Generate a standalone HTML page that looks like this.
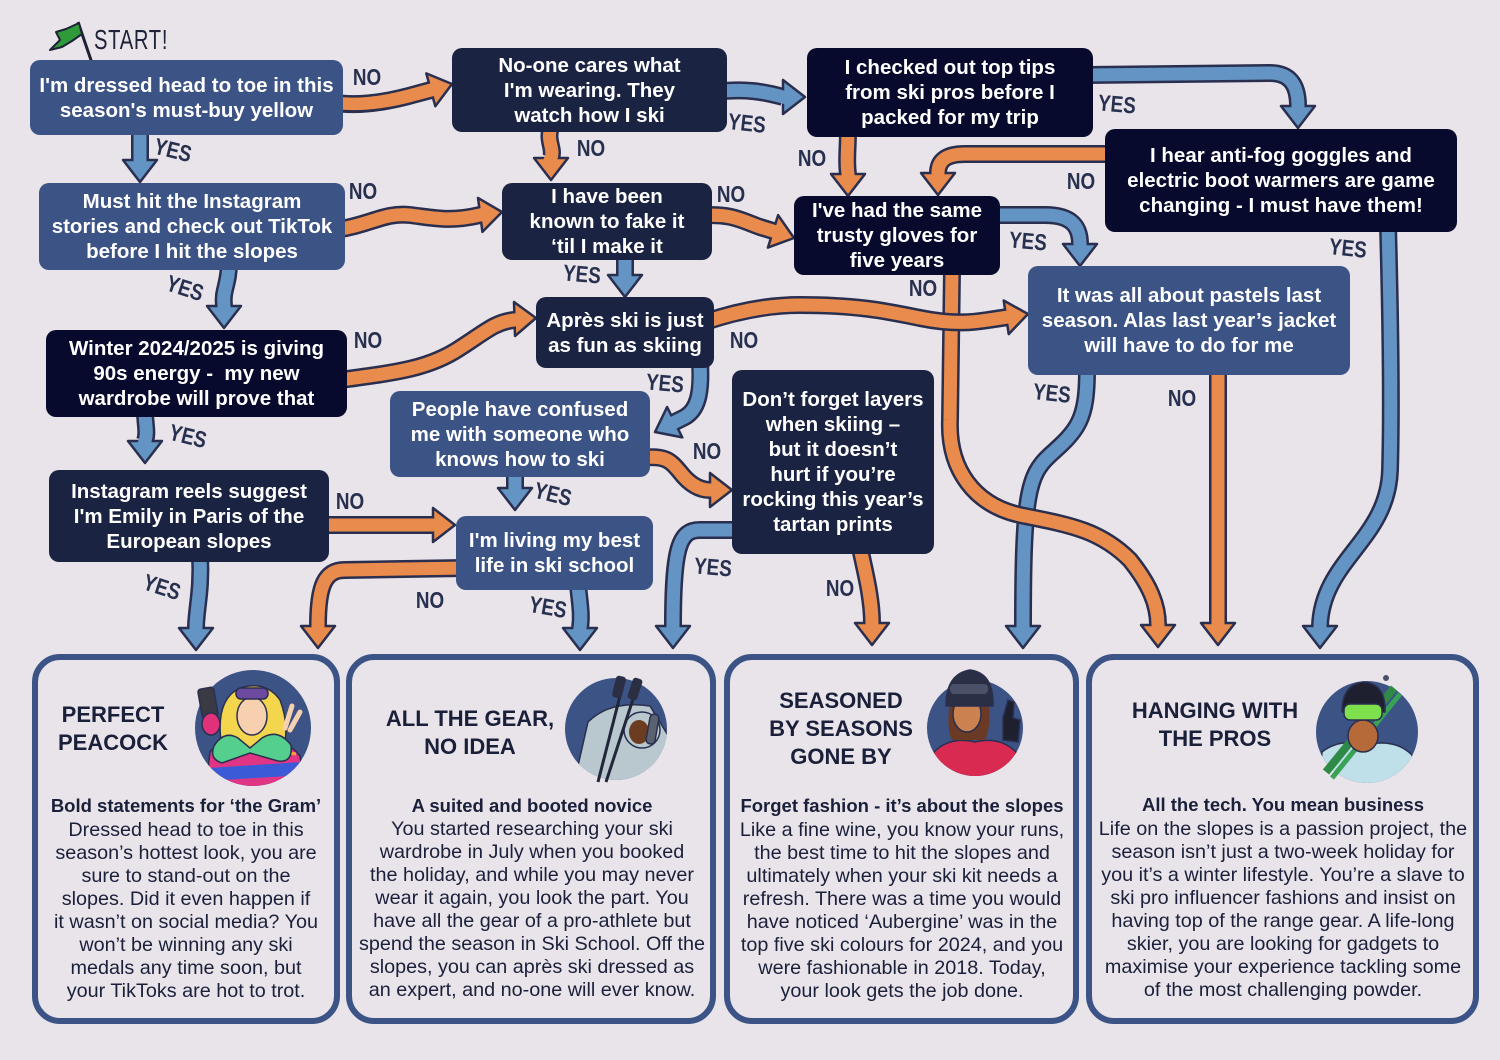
<!DOCTYPE html>
<html><head><meta charset="utf-8">
<style>
*{margin:0;padding:0;box-sizing:border-box}
html,body{width:1500px;height:1060px;overflow:hidden;background:#e9e4e9}
body{position:relative;font-family:"Liberation Sans",sans-serif}
.b{position:absolute;border-radius:10px;color:#fff;font-weight:bold;font-size:20.5px;line-height:25px;text-align:center;display:flex;align-items:center;justify-content:center;z-index:3;white-space:nowrap}
.bl{background:#3c5386}
.nv{background:#1b2342}
.dk{background:#070a2c}
.lab{position:absolute;z-index:4;color:#283050;font-size:23px;line-height:24px;font-weight:bold;white-space:nowrap;transform:translate(-50%,-50%) scaleX(.82)}
.card{position:absolute;top:654px;height:370px;border:6px solid #3c5386;border-radius:28px;z-index:1}
.t{position:absolute;z-index:3;color:#1a1f3a;font-weight:bold;font-size:22px;line-height:27.5px;text-align:center;white-space:nowrap;transform:translateX(-50%)}
.st{position:absolute;z-index:3;color:#1a1f3a;font-weight:bold;font-size:18.5px;line-height:23px;text-align:center;white-space:nowrap;transform:translateX(-50%)}
.bd{position:absolute;z-index:3;color:#1a1f3a;font-size:19.8px;line-height:23px;text-align:center;white-space:nowrap;transform:translateX(-50%)}
svg{position:absolute;left:0;top:0}
.so{fill:none;stroke:#2a2f4f;stroke-width:18}
.io{fill:none;stroke:#e98b4c;stroke-width:13;stroke-linecap:square}
.ib{fill:none;stroke:#6394c4;stroke-width:13;stroke-linecap:square}
.ho{fill:#e98b4c;stroke:#2a2f4f;stroke-width:2.5;stroke-linejoin:round}
.hb{fill:#6394c4;stroke:#2a2f4f;stroke-width:2.5;stroke-linejoin:round}
.ol{stroke:#2a2f4f;stroke-width:1.5}
</style></head><body>

<!-- cards -->
<div class="card" style="left:32px;width:308px"></div>
<div class="card" style="left:346px;width:370px"></div>
<div class="card" style="left:724px;width:355px"></div>
<div class="card" style="left:1086px;width:393px"></div>

<!-- arrows -->
<svg width="1500" height="1060" style="z-index:2">
<!-- A1 -->
<path class="so" d="M330,102 C360,108 395,100 416,94 L431,90"/><polygon class="ho" points="435.3,106.2 452,84 426.3,73.4"/><path class="io" d="M330,102 C360,108 395,100 416,94 L431,90"/>
<!-- A2 -->
<path class="so" d="M140,125 L140,160"/><polygon class="hb" points="123,160 157,160 140,182"/><path class="ib" d="M140,125 L140,160"/>
<!-- A3 -->
<path class="so" d="M552,125 C545,140 555,148 551,158"/><polygon class="ho" points="534,158 568,158 551,180"/><path class="io" d="M552,125 C545,140 555,148 551,158"/>
<!-- A4 -->
<path class="so" d="M715,92 C745,88 765,92 783,97"/><polygon class="hb" points="783,80 783,114 805,97"/><path class="ib" d="M715,92 C745,88 765,92 783,97"/>
<!-- A5 -->
<path class="so" d="M335,230 C370,225 385,212 410,215 C435,218 450,222 480,215"/><polygon class="ho" points="482.4,231.9 502,212 478,197.9"/><path class="io" d="M335,230 C370,225 385,212 410,215 C435,218 450,222 480,215"/>
<!-- A6 -->
<path class="so" d="M229,262 C229,285 222,290 224,306"/><polygon class="hb" points="207,306 241,306 224,328"/><path class="ib" d="M229,262 C229,285 222,290 224,306"/>
<!-- A7 -->
<path class="so" d="M700,216 C730,212 745,222 760,227 L773,231"/><polygon class="ho" points="767.9,247.6 794,238 778.1,215.2"/><path class="io" d="M700,216 C730,212 745,222 760,227 L773,231"/>
<!-- A8 -->
<path class="so" d="M625,255 L625,275"/><polygon class="hb" points="608,275 642,275 625,297"/><path class="ib" d="M625,255 L625,275"/>
<!-- A9 -->
<path class="so" d="M848,130 C848,150 846,160 848,174"/><polygon class="ho" points="831,174 865,174 848,196"/><path class="io" d="M848,130 C848,150 846,160 848,174"/>
<!-- A10 -->
<path class="so" d="M1085,75 L1270,73 C1290,73 1298,85 1298,106"/><polygon class="hb" points="1281,106 1315,106 1298,128"/><path class="ib" d="M1085,75 L1270,73 C1290,73 1298,85 1298,106"/>
<!-- A11 -->
<path class="so" d="M1115,154 L965,154 C947,154 938,160 938,173"/><polygon class="ho" points="921,173 955,173 938,195"/><path class="io" d="M1115,154 L965,154 C947,154 938,160 938,173"/>
<!-- A12 -->
<path class="so" d="M990,215 L1045,215 C1070,215 1080,225 1080,244"/><polygon class="hb" points="1063,244 1097,244 1080,266"/><path class="ib" d="M990,215 L1045,215 C1070,215 1080,225 1080,244"/>
<!-- A26 -->
<path class="so" d="M1087,370 C1087,420 1078,430 1050,455 C1028,475 1023,495 1023,626"/><polygon class="hb" points="1006,626 1040,626 1023,648"/><path class="ib" d="M1087,370 C1087,420 1078,430 1050,455 C1028,475 1023,495 1023,626"/>
<!-- A13 -->
<path class="so" d="M952,270 L950,420 C948,470 975,505 1020,515 C1070,525 1100,530 1130,560 C1150,585 1158,605 1158,625"/><polygon class="ho" points="1141,625 1175,625 1158,647"/><path class="io" d="M952,270 L950,420 C948,470 975,505 1020,515 C1070,525 1100,530 1130,560 C1150,585 1158,605 1158,625"/>
<!-- A14 -->
<path class="so" d="M705,322 C740,310 770,305 800,305 C860,305 890,312 920,318 C960,326 980,321 992,319.4 L1006,317.3"/><polygon class="ho" points="1008.7,334.1 1028,314 1003.7,300.5"/><path class="io" d="M705,322 C740,310 770,305 800,305 C860,305 890,312 920,318 C960,326 980,321 992,319.4 L1006,317.3"/>
<!-- A15 -->
<path class="so" d="M700,362 C702,395 697,410 685,417 L675,422"/><polygon class="hb" points="682.3,437.4 655,432 667.1,407"/><path class="ib" d="M700,362 C702,395 697,410 685,417 L675,422"/>
<!-- A16 -->
<path class="so" d="M640,458 C665,455 670,460 680,472 C690,485 700,490 710,490"/><polygon class="ho" points="710,473 710,507 732,490"/><path class="io" d="M640,458 C665,455 670,460 680,472 C690,485 700,490 710,490"/>
<!-- A17 -->
<path class="so" d="M515,470 L515,488"/><polygon class="hb" points="498,488 532,488 515,510"/><path class="ib" d="M515,470 L515,488"/>
<!-- A18 -->
<path class="so" d="M340,380 C400,372 430,368 460,348 C485,332 495,322 514,320"/><polygon class="ho" points="514,302 515,336 536,318"/><path class="io" d="M340,380 C400,372 430,368 460,348 C485,332 495,322 514,320"/>
<!-- A19 -->
<path class="so" d="M145,410 C145,425 148,432 145,441"/><polygon class="hb" points="128,441 162,441 145,463"/><path class="ib" d="M145,410 C145,425 148,432 145,441"/>
<!-- A20 -->
<path class="so" d="M320,525 L433,525"/><polygon class="ho" points="433,508 433,542 455,525"/><path class="io" d="M320,525 L433,525"/>
<!-- A21 -->
<path class="so" d="M200,555 C202,590 196,610 196,628"/><polygon class="hb" points="179,628 213,628 196,650"/><path class="ib" d="M200,555 C202,590 196,610 196,628"/>
<!-- A22 -->
<path class="so" d="M465,568 L345,570 C325,570 318,585 318,626"/><polygon class="ho" points="301,626 335,626 318,648"/><path class="io" d="M465,568 L345,570 C325,570 318,585 318,626"/>
<!-- A23 -->
<path class="so" d="M578,585 C580,605 582,615 580,628"/><polygon class="hb" points="563,628 597,628 580,650"/><path class="ib" d="M578,585 C580,605 582,615 580,628"/>
<!-- A24 -->
<path class="so" d="M740,530 L700,530 C680,530 673,545 673,626"/><polygon class="hb" points="656,626 690,626 673,648"/><path class="ib" d="M740,530 L700,530 C680,530 673,545 673,626"/>
<!-- A25 -->
<path class="so" d="M860,548 C866,575 872,600 872,623"/><polygon class="ho" points="855,623 889,623 872,645"/><path class="io" d="M860,548 C866,575 872,600 872,623"/>
<!-- A27 -->
<path class="so" d="M1218,370 L1218,623"/><polygon class="ho" points="1201,623 1235,623 1218,645"/><path class="io" d="M1218,370 L1218,623"/>
<!-- A28 -->
<path class="so" d="M1388,225 C1390,300 1392,400 1390,470 C1388,540 1322,560 1320,626"/><polygon class="hb" points="1303,626 1337,626 1320,648"/><path class="ib" d="M1388,225 C1390,300 1392,400 1390,470 C1388,540 1322,560 1320,626"/>

<!-- start flag -->
<line x1="78" y1="22" x2="93" y2="66" stroke="#1e2236" stroke-width="3"/>
<path d="M79,23 L66,29 L56,32 L60,40 L50,50 L62,47 L72,41 L82,34 Z" fill="#2f9a3a" stroke="#1e2236" stroke-width="2" stroke-linejoin="round"/>
</svg>

<div style="position:absolute;left:94px;top:24px;font-size:28px;color:#1e2236;transform:scaleX(.72);transform-origin:left top;z-index:4;letter-spacing:1px">START!</div>

<!-- question boxes -->
<div class="b bl" style="left:30px;top:60px;width:313px;height:75px">I'm dressed head to toe in this<br>season's must-buy yellow</div>
<div class="b nv" style="left:452px;top:48px;width:275px;height:84px">No-one cares what<br>I'm wearing. They<br>watch how I ski</div>
<div class="b dk" style="left:807px;top:48px;width:286px;height:89px">I checked out top tips<br>from ski pros before I<br>packed for my trip</div>
<div class="b bl" style="left:39px;top:183px;width:306px;height:87px">Must hit the Instagram<br>stories and check out TikTok<br>before I hit the slopes</div>
<div class="b nv" style="left:502px;top:183px;width:210px;height:77px">I have been<br>known to fake it<br>‘til I make it</div>
<div class="b dk" style="left:794px;top:196px;width:206px;height:79px">I've had the same<br>trusty gloves for<br>five years</div>
<div class="b dk" style="left:1105px;top:129px;width:352px;height:103px">I hear anti-fog goggles and<br>electric boot warmers are game<br>changing - I must have them!</div>
<div class="b dk" style="left:46px;top:330px;width:301px;height:87px">Winter 2024/2025 is giving<br>90s energy -&nbsp; my new<br>wardrobe will prove that</div>
<div class="b nv" style="left:536px;top:297px;width:178px;height:71px">Après ski is just<br>as fun as skiing</div>
<div class="b bl" style="left:1028px;top:266px;width:322px;height:109px">It was all about pastels last<br>season. Alas last year’s jacket<br>will have to do for me</div>
<div class="b bl" style="left:390px;top:391px;width:260px;height:86px">People have confused<br>me with someone who<br>knows how to ski</div>
<div class="b nv" style="left:732px;top:370px;width:202px;height:184px">Don’t forget layers<br>when skiing –<br>but it doesn’t<br>hurt if you’re<br>rocking this year’s<br>tartan prints</div>
<div class="b nv" style="left:49px;top:470px;width:280px;height:92px">Instagram reels suggest<br>I'm Emily in Paris of the<br>European slopes</div>
<div class="b bl" style="left:456px;top:516px;width:197px;height:74px">I'm living my best<br>life in ski school</div>

<!-- labels -->
<div class="lab" style="left:367px;top:77px">NO</div>
<div class="lab" style="left:173px;top:150px;transform:translate(-50%,-50%) rotate(14deg) scaleX(.82)">YES</div>
<div class="lab" style="left:591px;top:148px">NO</div>
<div class="lab" style="left:747px;top:123px;transform:translate(-50%,-50%) rotate(6deg) scaleX(.82)">YES</div>
<div class="lab" style="left:363px;top:191px">NO</div>
<div class="lab" style="left:185px;top:288px;transform:translate(-50%,-50%) rotate(18deg) scaleX(.82)">YES</div>
<div class="lab" style="left:731px;top:194px">NO</div>
<div class="lab" style="left:582px;top:274px;transform:translate(-50%,-50%) rotate(5deg) scaleX(.82)">YES</div>
<div class="lab" style="left:812px;top:158px">NO</div>
<div class="lab" style="left:1117px;top:104px;transform:translate(-50%,-50%) rotate(5deg) scaleX(.82)">YES</div>
<div class="lab" style="left:1081px;top:181px">NO</div>
<div class="lab" style="left:1028px;top:241px;transform:translate(-50%,-50%) rotate(5deg) scaleX(.82)">YES</div>
<div class="lab" style="left:923px;top:288px">NO</div>
<div class="lab" style="left:744px;top:340px">NO</div>
<div class="lab" style="left:665px;top:383px;transform:translate(-50%,-50%) rotate(5deg) scaleX(.82)">YES</div>
<div class="lab" style="left:707px;top:451px">NO</div>
<div class="lab" style="left:553px;top:494px;transform:translate(-50%,-50%) rotate(14deg) scaleX(.82)">YES</div>
<div class="lab" style="left:368px;top:340px">NO</div>
<div class="lab" style="left:188px;top:436px;transform:translate(-50%,-50%) rotate(14deg) scaleX(.82)">YES</div>
<div class="lab" style="left:350px;top:501px">NO</div>
<div class="lab" style="left:162px;top:587px;transform:translate(-50%,-50%) rotate(18deg) scaleX(.82)">YES</div>
<div class="lab" style="left:430px;top:600px">NO</div>
<div class="lab" style="left:548px;top:607px;transform:translate(-50%,-50%) rotate(10deg) scaleX(.82)">YES</div>
<div class="lab" style="left:713px;top:567px;transform:translate(-50%,-50%) rotate(5deg) scaleX(.82)">YES</div>
<div class="lab" style="left:840px;top:588px">NO</div>
<div class="lab" style="left:1052px;top:393px;transform:translate(-50%,-50%) rotate(6deg) scaleX(.82)">YES</div>
<div class="lab" style="left:1182px;top:398px">NO</div>
<div class="lab" style="left:1348px;top:248px;transform:translate(-50%,-50%) rotate(6deg) scaleX(.82)">YES</div>

<!-- illustrations -->
<svg width="1500" height="1060" style="z-index:3">
<defs>
<clipPath id="c1"><circle cx="253" cy="728" r="58"/></clipPath>
<clipPath id="c2"><circle cx="616" cy="729" r="51"/></clipPath>
<clipPath id="c3"><circle cx="975" cy="728" r="48"/></clipPath>
<clipPath id="c4"><circle cx="1367" cy="732" r="51"/></clipPath>
</defs>
<!-- card 1 -->
<circle cx="253" cy="728" r="58" fill="#3c5386"/>
<g clip-path="url(#c1)">
<path d="M205,792 L210,752 Q222,736 250,740 Q285,736 300,756 L305,792 Z" fill="#e03585" class="ol"/>
<path d="M209,768 L301,762 L303,775 L208,781Z" fill="#3b5bd6"/>
<path d="M215,756 Q255,748 296,754" stroke="#f2a53a" stroke-width="3" fill="none"/>
</g>
<path d="M222,748 Q214,700 240,688 Q266,680 280,700 Q290,726 283,750 Z" fill="#f3d64e" class="ol"/>
<path d="M214,746 Q224,730 238,738 L250,748 L262,738 Q278,728 291,745 Q293,763 278,761 L250,753 L222,763 Q209,759 214,746Z" fill="#55cf8d" class="ol"/>
<ellipse cx="252" cy="716" rx="15" ry="19" fill="#f7d0b0" class="ol"/>
<rect x="236" y="688" width="32" height="11" rx="5" fill="#6b4aa0" class="ol"/>
<rect x="200" y="688" width="16" height="30" rx="3" fill="#3a3a44" class="ol" transform="rotate(-10 208 703)"/>
<ellipse cx="211" cy="724" rx="9" ry="11" fill="#e0317a" class="ol"/>
<path d="M285,728 L292,706 M290,730 L300,712" stroke="#f7d0b0" stroke-width="5" stroke-linecap="round"/>
<!-- card 2 -->
<circle cx="616" cy="729" r="51" fill="#3c5386"/>
<g clip-path="url(#c2)">
<path d="M572,792 L588,722 Q610,700 650,706 L672,742 L670,792Z" fill="#b9c8cf" class="ol"/>
</g>
<circle cx="642" cy="730" r="18" fill="#b9c8cf" class="ol"/>
<ellipse cx="639" cy="732" rx="10" ry="12" fill="#6b3c20"/>
<rect x="648" y="714" width="9" height="30" rx="4" fill="#5a6270" class="ol" transform="rotate(10 652 729)"/>
<line x1="598" y1="782" x2="622" y2="688" stroke="#22263a" stroke-width="3"/>
<line x1="606" y1="782" x2="636" y2="690" stroke="#22263a" stroke-width="3"/>
<rect x="614" y="676" width="10" height="22" rx="3" fill="#2a2f44" transform="rotate(14 619 687)"/>
<rect x="630" y="678" width="10" height="22" rx="3" fill="#2a2f44" transform="rotate(18 635 689)"/>
<!-- card 3 -->
<circle cx="975" cy="728" r="48" fill="#3c5386"/>
<g clip-path="url(#c3)">
<path d="M928,790 L934,752 Q950,736 975,742 Q1000,736 1016,752 L1022,790Z" fill="#d92a52" class="ol"/>
</g>
<path d="M950,700 Q946,730 952,740 L985,740 Q992,725 988,700Z" fill="#6a3a24"/>
<ellipse cx="967" cy="714" rx="14" ry="18" fill="#c98250" class="ol"/>
<path d="M946,706 Q946,674 970,670 Q994,673 993,706 Z" fill="#2b2f45" class="ol"/>
<rect x="950" y="684" width="38" height="10" rx="4" fill="#4a5068"/>
<path d="M1003,740 L1003,718 L1008,700 L1014,702 L1013,718 L1020,720 L1018,742 Z" fill="#1e2030" class="ol"/>
<!-- card 4 -->
<circle cx="1367" cy="732" r="51" fill="#3c5386"/>
<g clip-path="url(#c4)">
<path d="M1318,792 L1322,752 Q1340,738 1365,745 Q1395,738 1412,755 L1418,792Z" fill="#bfdfe9" class="ol"/>
</g>
<line x1="1326" y1="772" x2="1394" y2="688" stroke="#2e8a46" stroke-width="8"/>
<line x1="1332" y1="778" x2="1400" y2="694" stroke="#3aa255" stroke-width="5"/>
<ellipse cx="1363" cy="736" rx="15" ry="16" fill="#b66a3a" class="ol"/>
<path d="M1342,712 Q1342,684 1364,682 Q1386,684 1385,712 Z" fill="#1e2030" class="ol"/>
<rect x="1344" y="704" width="38" height="16" rx="6" fill="#7de04c" class="ol"/>
<circle cx="1386" cy="678" r="3" fill="#4a5068"/>
</svg>

<!-- card texts -->
<div class="t" style="left:113px;top:701px">PERFECT<br>PEACOCK</div>
<div class="st" style="left:186px;top:794px">Bold statements for ‘the Gram’</div>
<div class="bd" style="left:186px;top:819px">Dressed head to toe in this<br>season’s hottest look, you are<br>sure to stand-out on the<br>slopes. Did it even happen if<br>it wasn’t on social media? You<br>won’t be winning any ski<br>medals any time soon, but<br>your TikToks are hot to trot.</div>

<div class="t" style="left:470px;top:705px">ALL THE GEAR,<br>NO IDEA</div>
<div class="st" style="left:532px;top:794px">A suited and booted novice</div>
<div class="bd" style="left:532px;top:818px">You started researching your ski<br>wardrobe in July when you booked<br>the holiday, and while you may never<br>wear it again, you look the part. You<br>have all the gear of a pro-athlete but<br>spend the season in Ski School. Off the<br>slopes, you can après ski dressed as<br>an expert, and no-one will ever know.</div>

<div class="t" style="left:841px;top:687px;line-height:28px">SEASONED<br>BY SEASONS<br>GONE BY</div>
<div class="st" style="left:902px;top:794px">Forget fashion - it’s about the slopes</div>
<div class="bd" style="left:902px;top:819px">Like a fine wine, you know your runs,<br>the best time to hit the slopes and<br>ultimately when your ski kit needs a<br>refresh. There was a time you would<br>have noticed ‘Aubergine’ was in the<br>top five ski colours for 2024, and you<br>were fashionable in 2018. Today,<br>your look gets the job done.</div>

<div class="t" style="left:1215px;top:697px;line-height:28px">HANGING WITH<br>THE PROS</div>
<div class="st" style="left:1283px;top:793px">All the tech. You mean business</div>
<div class="bd" style="left:1283px;top:818px">Life on the slopes is a passion project, the<br>season isn’t just a two-week holiday for<br>you it’s a winter lifestyle. You’re a slave to<br>ski pro influencer fashions and insist on<br>having top of the range gear. A life-long<br>skier, you are looking for gadgets to<br>maximise your experience tackling some<br>of the most challenging powder.</div>

</body></html>
